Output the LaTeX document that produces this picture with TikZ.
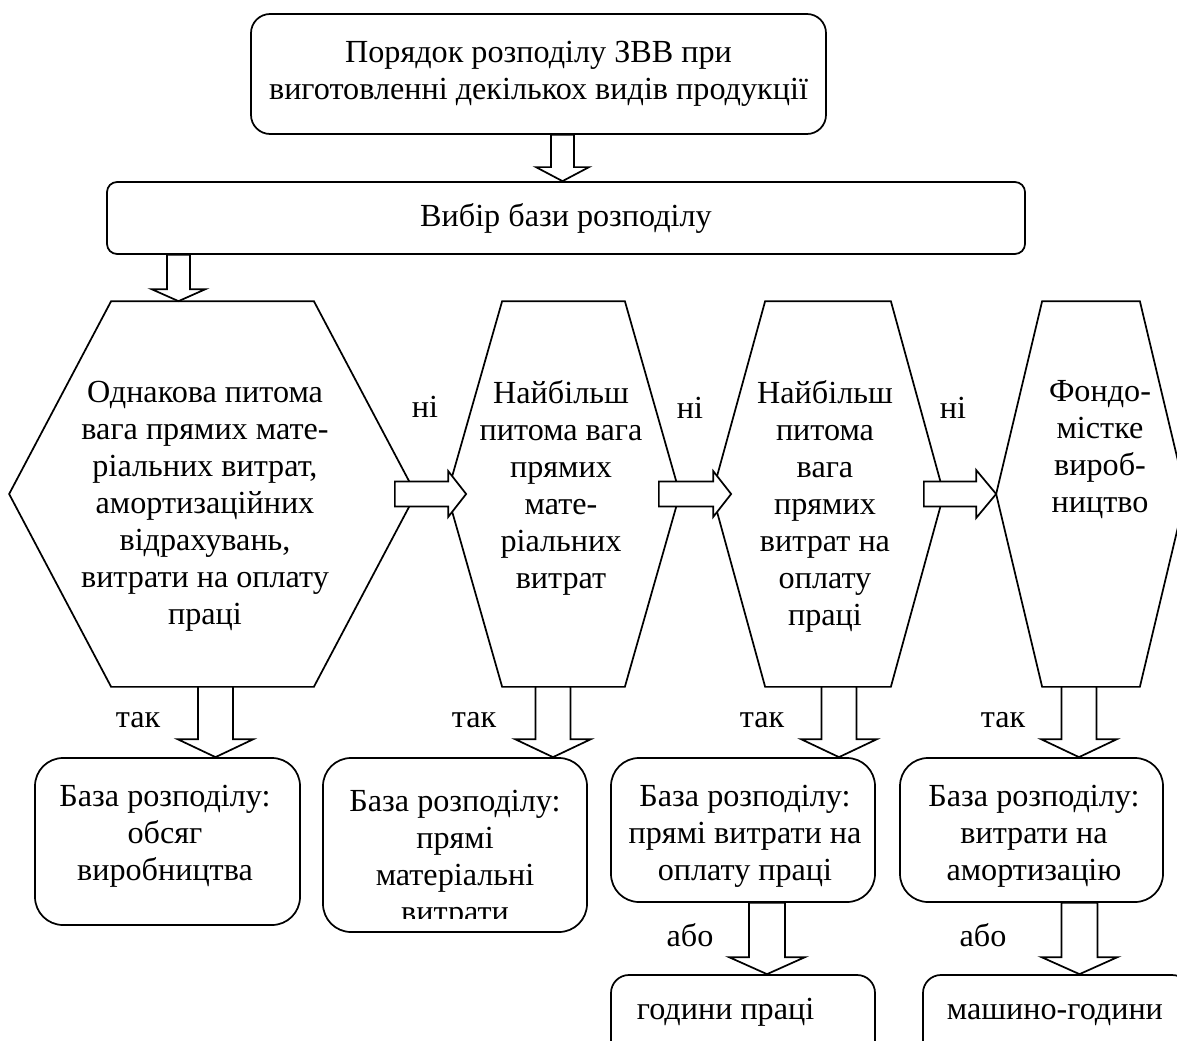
\documentclass[tikz,border=0pt]{standalone}
\usepackage{fontspec}
\setmainfont{Liberation Serif}
\usetikzlibrary{calc}
\newcommand{\pxu}{0.435pt}
\newcommand{\fatdown}[5]{%
  \draw[fat] ($(#1)+(-#3,0)$) -- ($(#1|-#2)+(-#3,-#5)$) -- ($(#1|-#2)+(-#4,-#5)$) -- (#1|-#2)
    -- ($(#1|-#2)+(#4,-#5)$) -- ($(#1|-#2)+(#3,-#5)$) -- ($(#1)+(#3,0)$) -- cycle;}
\newcommand{\fatright}[5]{%
  \draw[fat] ($(#1)+(0,-#3)$) -- ($(#2|-#1)+(-#5,-#3)$) -- ($(#2|-#1)+(-#5,-#4)$) -- (#2|-#1)
    -- ($(#2|-#1)+(-#5,#4)$) -- ($(#2|-#1)+(-#5,#3)$) -- ($(#1)+(0,#3)$) -- cycle;}
\newcommand{\hexframe}[2]{%
  \draw ([xshift=#2*\pxu]#1.north west) -- ([xshift=-#2*\pxu]#1.north east) -- (#1.east)
    -- ([xshift=-#2*\pxu]#1.south east) -- ([xshift=#2*\pxu]#1.south west) -- (#1.west) -- cycle;}
\begin{document}
\begin{tikzpicture}[x=\pxu,y=-\pxu,line width=0.75pt,
    every node/.style={font=\fontsize{14}{16.1}\selectfont,inner sep=0pt},
    box/.style={draw,rectangle},
    hexbox/.style={rectangle,minimum height=384*\pxu},
    fat/.style={draw,fill=white,line join=miter}]
    \clip (0,0) rectangle (1177,1041);
    \node[box,rounded corners=8.3pt,minimum width=575*\pxu,minimum height=120*\pxu,align=center] (top) at (538.5,74)
        {Порядок розподілу ЗВВ при\\виготовленні декількох видів продукції};
    \node[box,rounded corners=4.4pt,minimum width=918*\pxu,minimum height=72*\pxu] (sel) at (566,218) {Вибір бази розподілу};
    \node[hexbox,minimum width=405*\pxu] (h1) at (212.5,494) {};
    \node[hexbox,minimum width=231*\pxu] (h2) at (563.5,494) {};
    \node[hexbox,minimum width=230*\pxu] (h3) at (828,494) {};
    \node[hexbox,minimum width=188*\pxu] (h4) at (1091,494) {};
    \hexframe{h1}{102}
    \hexframe{h2}{55}
    \hexframe{h3}{53}
    \hexframe{h4}{46}
    \node[align=center,anchor=north] (h1t) at (205,380) {Однакова питома\\вага прямих мате-\\ріальних витрат,\\амортизаційних\\відрахувань,\\витрати на оплату\\праці};
    \node[align=center,anchor=north] (h2t) at (561,380) {Найбільш\\питома вага\\прямих\\мате-\\ріальних\\витрат};
    \node[align=center,anchor=north] (h3t) at (825,380) {Найбільш\\питома\\вага\\прямих\\витрат на\\оплату\\праці};
    \node[align=center,anchor=north] (h4t) at (1100,380) {Фондо-\\містке\\вироб-\\ництво};
    \node[box,rounded corners=12.2pt,minimum width=265*\pxu,minimum height=167*\pxu] (b1) at (167.5,841.5) {};
    \node[box,rounded corners=12.2pt,minimum width=264*\pxu,minimum height=174*\pxu] (b2) at (455,845) {};
    \node[box,rounded corners=12.2pt,minimum width=264*\pxu,minimum height=144*\pxu] (b3) at (743,830) {};
    \node[box,rounded corners=12.2pt,minimum width=263*\pxu,minimum height=144*\pxu] (b4) at (1031.5,830) {};
    \node[box,rounded corners=7.8pt,minimum width=264*\pxu,minimum height=90*\pxu] (b5) at (743,1020) {};
    \node[box,rounded corners=7.8pt,minimum width=267*\pxu,minimum height=90*\pxu] (b6) at (1056.5,1020) {};
    \node[align=center,anchor=north] (b1t) at (165,784) {База розподілу:\\обсяг\\виробництва};
    \begin{scope}
        \clip (323,758) rectangle (587,918);
        \node[align=center,anchor=north] (b2t) at (455,789) {База розподілу:\\прямі\\матеріальні\\витрати};
    \end{scope}
    \node[align=center,anchor=north] (b3t) at (745,784) {База розподілу:\\прямі витрати на\\оплату праці};
    \node[align=center,anchor=north] (b4t) at (1034,784) {База розподілу:\\витрати на\\амортизацію};
    \node[anchor=base west] (b5t) at (636,1019) {години праці};
    \node[anchor=base west] (b6t) at (946,1019) {машино-години};
    \coordinate (s0) at ([xshift=24*\pxu]top.south);
    \coordinate (s1) at ([xshift=-387.5*\pxu]sel.south);
    \fatdown{s0}{sel.north}{11.5}{26.5}{14}
    \fatdown{s1}{h1.north}{11.5}{27}{12}
    \coordinate (r1) at ([xshift=-21*\pxu]h1.east);
    \coordinate (e1) at ([xshift=19*\pxu]h2.west);
    \coordinate (r2) at ([xshift=-21*\pxu]h2.east);
    \coordinate (e2) at ([xshift=19*\pxu]h3.west);
    \coordinate (r3) at ([xshift=-20*\pxu]h3.east);
    \coordinate (e3) at (h4.west);
    \fatright{r1}{e1}{12.5}{23}{18}
    \fatright{r2}{e2}{12.5}{23}{18}
    \fatright{r3}{e3}{12.5}{24}{20}
    \coordinate (d1) at ([xshift=3*\pxu]h1.south);
    \coordinate (d2) at ([xshift=-10.5*\pxu]h2.south);
    \coordinate (d3) at ([xshift=11*\pxu]h3.south);
    \coordinate (d4) at ([xshift=-12*\pxu]h4.south);
    \fatdown{d1}{b1.north}{17.5}{38}{18}
    \fatdown{d2}{b2.north}{17.5}{38}{18}
    \fatdown{d3}{b3.north}{17.5}{38}{18}
    \fatdown{d4}{b4.north}{17.5}{38}{18}
    \coordinate (o1) at ([xshift=24*\pxu]b3.south);
    \coordinate (o2) at ([xshift=48*\pxu]b4.south);
    \fatdown{o1}{b5.north}{18}{38}{17}
    \fatdown{o2}{b6.north}{18}{38}{17}
    \node (n1) at (425,407) {ні};
    \node (n2) at (690,408) {ні};
    \node (n3) at (953,408) {ні};
    \node (y1) at (138,720) {так};
    \node (y2) at (474,720) {так};
    \node (y3) at (762,720) {так};
    \node (y4) at (1003,720) {так};
    \node (o1t) at (690,935) {або};
    \node (o2t) at (983,935) {або};
\end{tikzpicture}
\end{document}
